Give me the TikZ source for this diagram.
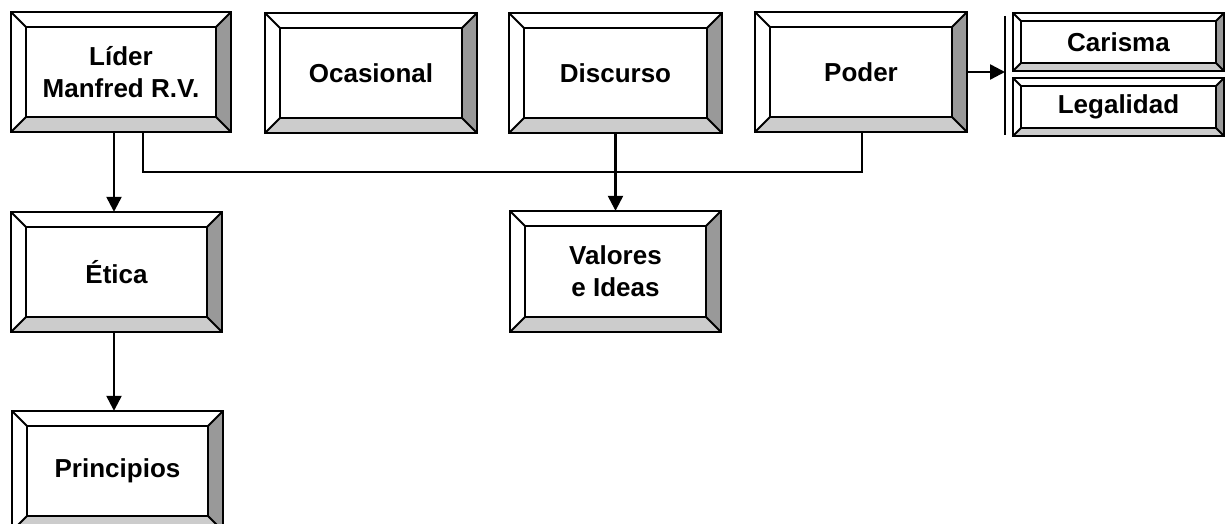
\documentclass[tikz,border=0pt]{standalone}
\usepackage{fontspec}
\setmainfont{Liberation Sans}
\usetikzlibrary{arrows.meta}
\definecolor{rgray}{HTML}{999999}
\definecolor{bgray}{HTML}{CCCCCC}
\tikzset{
  arr/.style={-{Triangle[length=15pt,width=15pt]}},
  boxtext/.style={inner sep=0pt, align=center, font=\bfseries\fontsize{26}{32}\selectfont},
  bevline/.style={line width=1.8pt},
  conn/.style={line width=2.4pt},
}
\newcommand\bevbox[7]{%
  \fill[white] (#2,#3) rectangle (#4,#5);
  \fill[rgray] (#4,#3) -- (#4,#5) -- (#4-#6,#5-#6) -- (#4-#6,#3+#6) -- cycle;
  \fill[bgray] (#2,#5) -- (#4,#5) -- (#4-#6,#5-#6) -- (#2+#6,#5-#6) -- cycle;
  \draw[bevline] (#2,#3) rectangle (#4,#5);
  \draw[bevline] (#2+#6,#3+#6) rectangle (#4-#6,#5-#6);
  \draw[bevline] (#2,#3) -- (#2+#6,#3+#6) (#4,#3) -- (#4-#6,#3+#6)
        (#2,#5) -- (#2+#6,#5-#6) (#4,#5) -- (#4-#6,#5-#6);
  \node[boxtext, minimum width={(#4-#2)*1pt}, minimum height={(#5-#3)*1pt}]
    (#1) at ({(#2+#4)/2},{(#3+#5)/2}) {#7};
}
\begin{document}
\begin{tikzpicture}[x=1pt,y=-1pt]
\useasboundingbox (0,0) rectangle (1227,524);
\clip (0,0) rectangle (1227,524);
\bevbox{lider}{11}{12}{231}{132}{15}{Líder\\Manfred R.V.}
\bevbox{ocasional}{265}{13}{477}{133}{15}{Ocasional}
\bevbox{discurso}{509}{13}{722}{133}{15}{Discurso}
\bevbox{poder}{755}{12}{967}{132}{15}{Poder}
\bevbox{carisma}{1013}{13}{1224}{71}{8}{Carisma}
\bevbox{legalidad}{1013}{78}{1224}{136}{8}{Legalidad}
\bevbox{etica}{11}{212}{222}{332}{15}{Ética}
\bevbox{valores}{510}{211}{721}{332}{15}{Valores\\e Ideas}
\bevbox{principios}{12}{411}{223}{531}{15}{Principios}
% connectors
\coordinate (ax) at (114,0);
\coordinate (busL) at (143,172);
\coordinate (busR) at (862,172);
\coordinate (bartop) at (1005,16);
\coordinate (barbot) at (1005,135);
\draw[bevline] (bartop) -- (barbot);
\draw[conn,arr] (ax |- lider.south) -- (ax |- etica.north);
\draw[conn,arr] (ax |- etica.south) -- (ax |- principios.north);
\draw[conn] (busL |- lider.south) -- (busL) -- (busR) -- (busR |- poder.south);
\draw[conn,arr] (discurso.south) -- (valores.north);
\draw[conn,arr] (poder.east) -- (poder.east -| bartop);
\end{tikzpicture}
\end{document}
